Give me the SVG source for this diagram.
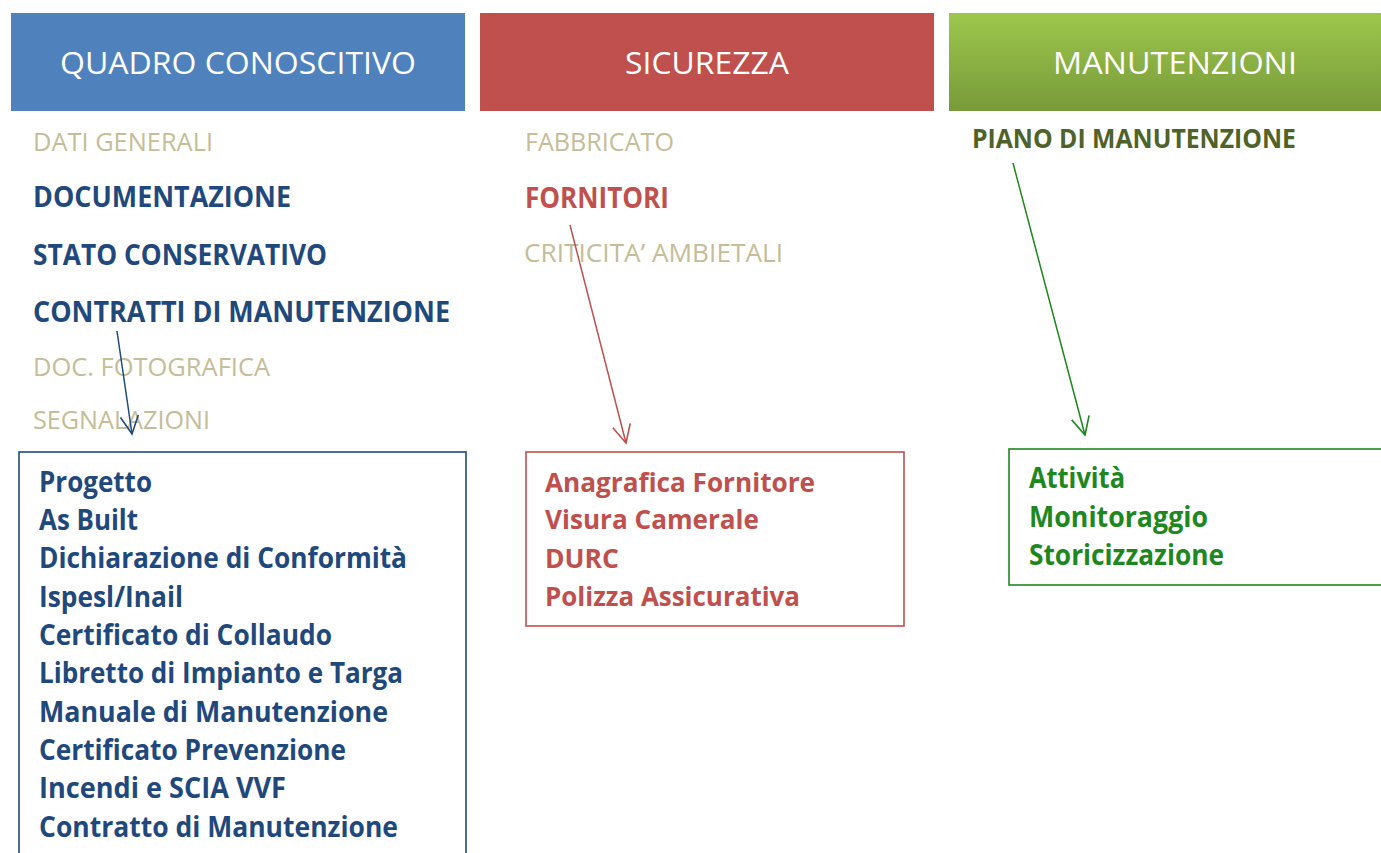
<svg xmlns="http://www.w3.org/2000/svg" width="1381" height="853" viewBox="0 0 1381 853">
<defs>
<style>
text{font-family:"Open Sans","Noto Sans","Liberation Sans",sans-serif;}
.hd{fill:#FFFFFF;font-size:31px;}
.tan{fill:#C4BD97;font-size:25px;}
.bl{fill:#1F497D;font-size:28px;font-weight:bold;}
.rd{fill:#C0504D;font-size:28px;font-weight:bold;}
.gr{fill:#1E881E;font-size:28px;font-weight:bold;}
.ol{fill:#4F6228;font-size:26px;font-weight:bold;}
.rdb{fill:#C0504D;font-size:27px;font-weight:bold;}
</style>
<linearGradient id="gGreen" x1="0" y1="0" x2="0" y2="1">
<stop offset="0" stop-color="#9DC74C"/>
<stop offset="1" stop-color="#789A3A"/>
</linearGradient>
<marker id="aBlue" markerUnits="userSpaceOnUse" viewBox="-20 -11 22 22" refX="0" refY="0" markerWidth="22" markerHeight="22" orient="auto" overflow="visible">
<path d="M-18,-9 L0,0 L-18,9" fill="none" stroke="#1F497D" stroke-width="1.6"/>
</marker>
<marker id="aRed" markerUnits="userSpaceOnUse" viewBox="-20 -11 22 22" refX="0" refY="0" markerWidth="22" markerHeight="22" orient="auto" overflow="visible">
<path d="M-18,-9 L0,0 L-18,9" fill="none" stroke="#C0504D" stroke-width="1.6"/>
</marker>
<marker id="aGreen" markerUnits="userSpaceOnUse" viewBox="-20 -11 22 22" refX="0" refY="0" markerWidth="22" markerHeight="22" orient="auto" overflow="visible">
<path d="M-18,-9 L0,0 L-18,9" fill="none" stroke="#1E881E" stroke-width="1.6"/>
</marker>
</defs>
<rect width="1381" height="853" fill="#FFFFFF"/>

<g id="header-quadro">
<rect x="11" y="13" width="454" height="98" fill="#4F81BD"/>
<text class="hd" x="60" y="74" textLength="356" lengthAdjust="spacingAndGlyphs">QUADRO CONOSCITIVO</text>
</g>
<g id="header-sicurezza">
<rect x="480" y="13" width="454" height="98" fill="#C0504D"/>
<text class="hd" x="625" y="74" textLength="164" lengthAdjust="spacingAndGlyphs">SICUREZZA</text>
</g>
<g id="header-manutenzioni">
<rect x="949" y="13" width="432" height="98" fill="url(#gGreen)"/>
<text class="hd" x="1053" y="74" textLength="244" lengthAdjust="spacingAndGlyphs">MANUTENZIONI</text>
</g>

<g id="list-quadro">
<text class="tan" x="33" y="151" textLength="180" lengthAdjust="spacingAndGlyphs">DATI GENERALI</text>
<text class="bl" x="33" y="207" textLength="258" lengthAdjust="spacingAndGlyphs">DOCUMENTAZIONE</text>
<text class="bl" x="33" y="265" textLength="294" lengthAdjust="spacingAndGlyphs">STATO CONSERVATIVO</text>
<text id="contratti" class="bl" x="33" y="322" textLength="417" lengthAdjust="spacingAndGlyphs">CONTRATTI DI MANUTENZIONE</text>
<text class="tan" x="33" y="376" textLength="237" lengthAdjust="spacingAndGlyphs">DOC. FOTOGRAFICA</text>
<text class="tan" x="33" y="429" textLength="177" lengthAdjust="spacingAndGlyphs">SEGNALAZIONI</text>
</g>

<g id="list-sicurezza">
<text class="tan" x="525" y="151" textLength="149" lengthAdjust="spacingAndGlyphs">FABBRICATO</text>
<text id="fornitori" class="rd" x="525" y="208" textLength="144" lengthAdjust="spacingAndGlyphs">FORNITORI</text>
<text class="tan" x="524" y="262" textLength="259" lengthAdjust="spacingAndGlyphs">CRITICITA’ AMBIETALI</text>
</g>

<g id="list-manutenzioni">
<text id="piano" class="ol" x="972" y="148" textLength="324" lengthAdjust="spacingAndGlyphs">PIANO DI MANUTENZIONE</text>
</g>

<g id="box-contratti">
<rect x="19" y="452" width="447" height="420" fill="none" stroke="#1F497D" stroke-width="1.6"/>
<text class="bl" x="39" y="492" textLength="113" lengthAdjust="spacingAndGlyphs">Progetto</text>
<text class="bl" x="39" y="530" textLength="99" lengthAdjust="spacingAndGlyphs">As Built</text>
<text class="bl" x="39" y="568" textLength="368" lengthAdjust="spacingAndGlyphs">Dichiarazione di Conformità</text>
<text class="bl" x="39" y="607" textLength="144" lengthAdjust="spacingAndGlyphs">Ispesl/Inail</text>
<text class="bl" x="39" y="645" textLength="293" lengthAdjust="spacingAndGlyphs">Certificato di Collaudo</text>
<text class="bl" x="39" y="683" textLength="364" lengthAdjust="spacingAndGlyphs">Libretto di Impianto e Targa</text>
<text class="bl" x="39" y="722" textLength="349" lengthAdjust="spacingAndGlyphs">Manuale di Manutenzione</text>
<text class="bl" x="39" y="760" textLength="307" lengthAdjust="spacingAndGlyphs">Certificato Prevenzione</text>
<text class="bl" x="39" y="798" textLength="247" lengthAdjust="spacingAndGlyphs">Incendi e SCIA VVF</text>
<text class="bl" x="39" y="837" textLength="359" lengthAdjust="spacingAndGlyphs">Contratto di Manutenzione</text>
</g>

<g id="box-fornitori">
<rect x="526" y="452" width="378" height="174" fill="none" stroke="#C0504D" stroke-width="1.6"/>
<text class="rdb" x="545" y="492" textLength="270" lengthAdjust="spacingAndGlyphs">Anagrafica Fornitore</text>
<text class="rdb" x="545" y="529" textLength="214" lengthAdjust="spacingAndGlyphs">Visura Camerale</text>
<text class="rdb" x="545" y="568" textLength="74" lengthAdjust="spacingAndGlyphs">DURC</text>
<text class="rdb" x="545" y="606" textLength="255" lengthAdjust="spacingAndGlyphs">Polizza Assicurativa</text>
</g>

<g id="box-piano">
<rect x="1009" y="449" width="400" height="136" fill="none" stroke="#1E881E" stroke-width="1.6"/>
<text class="gr" x="1029" y="488" textLength="96" lengthAdjust="spacingAndGlyphs">Attività</text>
<text class="gr" x="1029" y="527" textLength="179" lengthAdjust="spacingAndGlyphs">Monitoraggio</text>
<text class="gr" x="1029" y="565" textLength="195" lengthAdjust="spacingAndGlyphs">Storicizzazione</text>
</g>

<g id="connectors" fill="none" stroke-width="1.5">
<line x1="117" y1="331" x2="132" y2="434" stroke="#1F497D" marker-end="url(#aBlue)"/>
<line x1="570" y1="225" x2="626" y2="443" stroke="#C0504D" marker-end="url(#aRed)"/>
<line x1="1013" y1="163" x2="1085" y2="435" stroke="#1E881E" marker-end="url(#aGreen)"/>
</g>
</svg>
